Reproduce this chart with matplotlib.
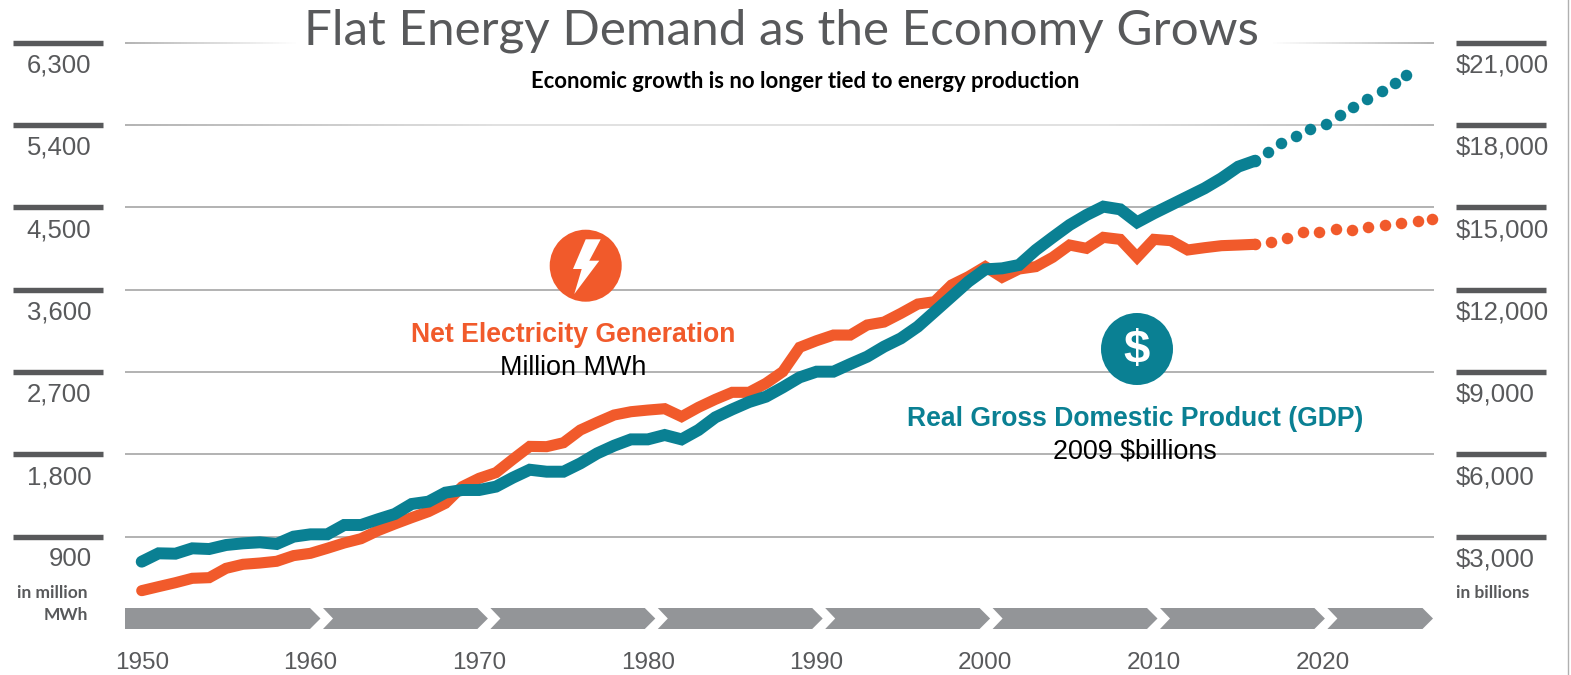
import matplotlib
matplotlib.use('Agg')
import matplotlib.pyplot as plt
import numpy as np
from matplotlib.collections import LineCollection
from matplotlib.lines import Line2D
from matplotlib.patches import Circle, Polygon
from matplotlib.transforms import Affine2D, blended_transform_factory

# Values
years = list(range(1950, 2017))
electricity = [308, 352, 395, 443, 450, 552, 596, 610, 629, 691,
               716, 771, 829, 876, 964, 1037, 1106, 1172, 1263, 1445,
               1536, 1598, 1744, 1885, 1882, 1925, 2064, 2148, 2228, 2264,
               2282, 2297, 2210, 2312, 2399, 2476, 2476, 2574, 2702, 2968,
               3040, 3102, 3102, 3212, 3244, 3339, 3441, 3467, 3649, 3740,
               3850, 3733, 3824, 3850, 3952, 4086, 4050, 4170, 4148, 3952,
               4148, 4134, 4032, 4057, 4079, 4086, 4094]
gdp = [2083, 2387, 2374, 2569, 2544, 2690, 2751, 2788, 2727, 2994,
       3079, 3079, 3419, 3419, 3626, 3820, 4184, 4270, 4598, 4694,
       4694, 4817, 5144, 5433, 5361, 5361, 5664, 6029, 6309, 6539,
       6539, 6698, 6539, 6880, 7341, 7632, 7900, 8094, 8434, 8799,
       9006, 9006, 9284, 9552, 9917, 10220, 10646, 11192, 11739, 12286,
       12734, 12771, 12892, 13439, 13901, 14350, 14714, 15019, 14921, 14448,
       14776, 15079, 15383, 15687, 16051, 16476, 16694]

electricity_fc_years = [2016.0, 2016.94, 2017.9, 2018.84, 2019.8, 2020.78,
                        2021.76, 2022.7, 2023.68, 2024.66, 2025.64, 2026.5]
electricity_fc = [4101, 4116, 4167, 4229, 4229, 4258, 4251, 4280, 4302, 4327, 4353, 4371]
gdp_fc_years = [2016.0, 2016.75, 2017.55, 2018.4, 2019.27, 2020.2,
                2021.0, 2021.8, 2022.6, 2023.5, 2024.3, 2024.95]
gdp_fc = [16683, 17011, 17327, 17607, 17837, 18043, 18359, 18663, 18942, 19222, 19513, 19804]

left_ticks = [900, 1800, 2700, 3600, 4500, 5400, 6300]
right_ticks = [3000, 6000, 9000, 12000, 15000, 18000, 21000]
x_ticks = [1950, 1960, 1970, 1980, 1990, 2000, 2010, 2020]

ORANGE = '#f15a2b'
TEAL = '#0a8093'
DARK = '#58595b'
W, H = 1571, 675

plt.rcParams['font.family'] = ['Liberation Sans', 'DejaVu Sans']

fig = plt.figure(figsize=(W / 100, H / 100), dpi=100)
ax = fig.add_axes([125 / W, 1 - 536.5 / H, (1434 - 125) / W, (536.5 - 42.5) / H])
ax.set_xlim(1949.01, 2026.6)
ax.set_ylim(900, 6300)
ax.patch.set_visible(False)
ax2 = ax.twinx()
ax2.set_ylim(3000, 21000)
ax2.patch.set_visible(False)

for a in (ax, ax2):
    for s in a.spines.values():
        s.set_visible(False)
    a.set_yticks([])

ax.set_xticks(x_ticks)
ax.tick_params(axis='x', length=0, pad=83.3, labelsize=17.5, labelcolor=DARK)

# pixel coordinates of the reference, origin top left
pix = Affine2D().scale(1 / W, -1 / H).translate(0, 1) + fig.transFigure
left_tr = blended_transform_factory(pix, ax.transData)
right_tr = blended_transform_factory(pix, ax2.transData)


def grid_line(v, xs, greys):
    px = np.linspace(125, 1434, 400)
    g = np.interp(px, xs, greys)
    segs = [[(px[i], v), (px[i + 1], v)] for i in range(len(px) - 1)]
    cols = [(c, c, c) for c in g[:-1]]
    ax.add_collection(LineCollection(segs, colors=cols, linewidths=1.1, transform=left_tr,
                                     clip_on=False, zorder=1, capstyle='butt'), autolim=False)


GREY = 0.62
for v in left_ticks:
    if v == 6300:
        grid_line(v, [125, 295, 1270, 1434], [GREY, 1, 1, GREY])
    elif v == 5400:
        grid_line(v, [125, 500, 1100, 1434], [GREY, 0.85, 0.85, GREY])
    else:
        grid_line(v, [125, 1434], [GREY, GREY])

# thick tick bars and labels either side
for v in left_ticks:
    ax.plot([13.5, 103], [v, v], color=DARK, lw=3.9, solid_capstyle='butt', transform=left_tr, clip_on=False)
    ax.annotate(f'{v:,}', xy=(91.5, v), xycoords=left_tr, xytext=(0, -16.5), textcoords='offset points',
                ha='right', va='center', fontsize=18.5, color=DARK)
for v in right_ticks:
    ax2.plot([1456, 1546], [v, v], color=DARK, lw=3.9, solid_capstyle='butt', transform=right_tr, clip_on=False)
    ax2.annotate(f'${v:,}', xy=(1456, v), xycoords=right_tr, xytext=(0, -16.5), textcoords='offset points',
                 ha='left', va='center', fontsize=18.5, color=DARK)

# series
ax.plot(years, electricity, color=ORANGE, lw=8, solid_capstyle='round', solid_joinstyle='miter', clip_on=False, zorder=3)
ax.plot(electricity_fc_years, electricity_fc, ls='none', marker='o', ms=8.3, mew=0, color=ORANGE, clip_on=False, zorder=3)
ax2.plot(years, gdp, color=TEAL, lw=8.6, solid_capstyle='round', solid_joinstyle='miter', clip_on=False, zorder=3)
ax2.plot(gdp_fc_years, gdp_fc, ls='none', marker='o', ms=8.3, mew=0, color=TEAL, clip_on=False, zorder=3)

# decade chevrons
tips = [320.5 + 167.4 * i for i in range(7)] + [1433]
start = 125
for i, tip in enumerate(tips):
    notch = start if i == 0 else start + 10
    pts = [(start, 608), (tip - 10.5, 608), (tip, 618.5), (tip - 10.5, 629), (start, 629), (notch, 618.5)]
    fig.add_artist(Polygon(pts, closed=True, fc='#939598', ec='none', transform=pix))
    start = tip + 2.5

# icons
fig.add_artist(Circle((585.7, 265.7), 36, fc=ORANGE, ec='none', transform=pix))
bolt = [(585.7, 239.3), (600.7, 239.3), (589.3, 260.7), (599.3, 260.7), (574.3, 294), (581.7, 269), (573, 269)]
fig.add_artist(Polygon(bolt, closed=True, fc='white', ec='none', transform=pix))
fig.add_artist(Circle((1137, 349), 36, fc=TEAL, ec='none', transform=pix))


def label(x, y, s, **kw):
    fig.text(x, y, s, transform=pix, ha=kw.pop('ha', 'center'), va='center', **kw)


label(1137, 351, '$', fontsize=34, color='white', fontweight='bold')

label(781.5, 31, 'Flat Energy Demand as the Economy Grows', fontsize=35.6, color=DARK,
      family=['Lato', 'Liberation Sans'], fontweight='normal')
label(805.5, 81, 'Economic growth is no longer tied to energy production', fontsize=15.9, color='black',
      family=['Lato', 'Liberation Sans'], fontweight='bold')

label(573.5, 335, 'Net Electricity Generation', fontsize=19.2, color=ORANGE, fontweight='bold')
label(573, 368, 'Million MWh', fontsize=19.4, color='black')
label(1135, 419.5, 'Real Gross Domestic Product (GDP)', fontsize=19.1, color=TEAL, fontweight='bold')
label(1135, 451.5, '2009 $billions', fontsize=19.4, color='black')

narrow = ['Lato', 'Liberation Sans']
label(88, 592.5, 'in million', ha='right', fontsize=12.5, color=DARK, family=narrow, fontweight='bold')
label(88, 615, 'MWh', ha='right', fontsize=12.5, color=DARK, family=narrow, fontweight='bold')
label(1456, 593, 'in billions', ha='left', fontsize=12.5, color=DARK, family=narrow, fontweight='bold')

# thin frame line on the right edge
fig.add_artist(Line2D([1568.5, 1568.5], [0, 675], color='#b0b0b0', lw=1, transform=pix))

fig.savefig('out.png', dpi=100)
